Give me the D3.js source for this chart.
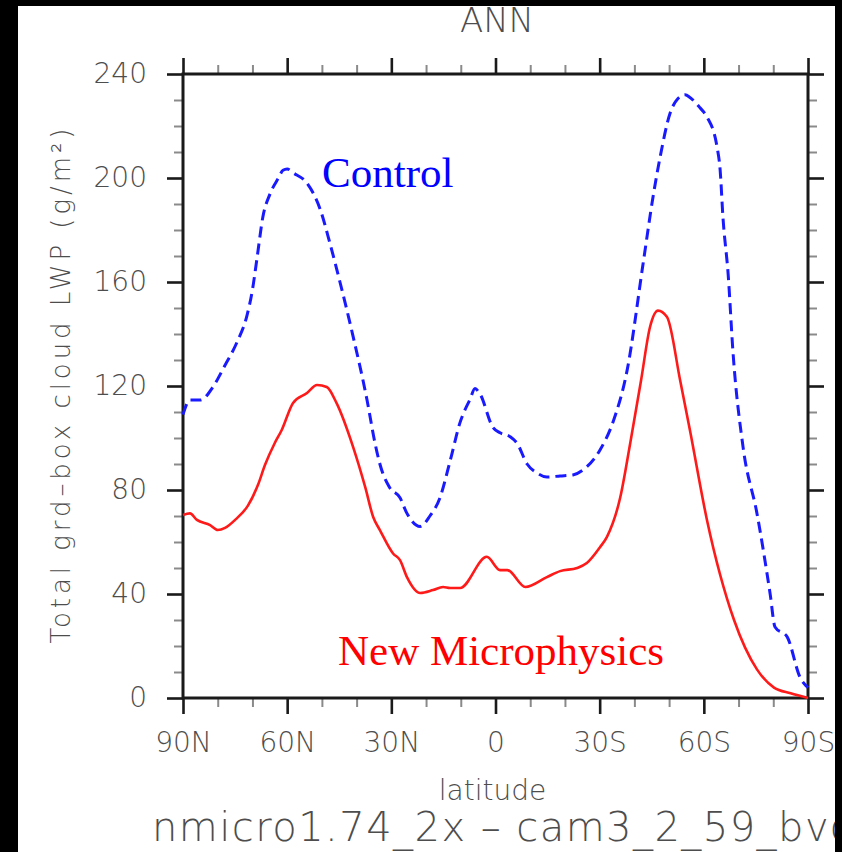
<!DOCTYPE html>
<html>
<head>
<meta charset="utf-8">
<script src="https://cdn.jsdelivr.net/npm/d3@7"></script>
<style>
  html, body { margin: 0; padding: 0; background: #000; }
  svg { display: block; }
  .tick-label { font-family: "DejaVu Sans", sans-serif; font-weight: 200; fill: #4d4d4d; }
</style>
</head>
<body>
<svg id="chart" width="842" height="852"></svg>
<script>
// Zonal-mean total grid-box cloud liquid water path, annual mean
const controlLat = [90, 88, 85, 81.4, 77.9, 74.4, 71.6, 70.0, 68.7, 67.0, 64.9, 62.5, 61.2, 60, 58.3, 54.3, 50.5, 47.7, 44.8, 41.0, 37.0, 34.7, 33.3, 30.5, 27.5, 25.5, 21.7, 18.9, 16.0, 13.1, 10.2, 7.3, 5.9, 4.5, 0.7, -1.3, -4.2, -6.2, -9.1, -12.0, -14.8, -18.6, -22.3, -25.2, -30.1, -33.8, -37.9, -42.5, -45.4, -47.4, -50.3, -52.5, -54.6, -56.0, -58.9, -60.9, -63.8, -64.7, -65.5, -67.0, -68.4, -71.3, -75.3, -79.1, -80.5, -84.0, -87.7, -90];
const controlLWP = [109, 114.6, 114.6, 119.6, 128, 137, 147, 157, 169, 185, 194, 200, 203, 203.5, 202, 198, 188, 175, 160, 139, 114.6, 98, 90, 81, 77, 71, 66, 70, 77, 91, 106, 115, 119, 117, 104, 102, 100.5, 98, 90, 86.5, 85, 85.4, 85.8, 87.7, 95.4, 106, 126, 167, 193, 208, 225, 230.5, 232, 231, 227, 223.5, 212, 203, 185, 163, 133, 96.5, 71, 40, 27.3, 23.5, 8, 4];

const newMicroLat = [90, 88, 86, 82.2, 80, 77.9, 75, 71.3, 68.4, 66.4, 63.6, 61.6, 58.3, 54.3, 51.4, 48.6, 45.8, 41.0, 37.5, 35.2, 33.3, 29.5, 27.5, 25.5, 21.7, 18, 15.1, 13.1, 10.2, 2.5, -1.3, -3.4, -8.6, -14.8, -18.6, -23.5, -26.3, -30.1, -32.1, -35.9, -38.8, -41.9, -44.5, -46.8, -49.4, -53.2, -56.0, -60.9, -68.7, -75.3, -80.2, -85, -90];
const newMicroLWP = [70.4, 71, 68.5, 66.5, 64.6, 65.4, 68.5, 74, 82, 89.6, 98, 103, 113.5, 117.3, 120.4, 119.6, 113.5, 96.5, 81, 69.5, 64.6, 55.6, 53, 46.5, 40.4, 41.5, 42.7, 42.3, 42.3, 54.3, 49.2, 49.2, 42.7, 46.5, 48.8, 50, 51.9, 58, 62, 77, 98, 122, 142.7, 149, 146.5, 122, 103, 68.5, 30, 11, 4, 1.8, 0];

const latTicks = [90, 60, 30, 0, -30, -60, -90];
const latTickLabels = ["90N", "60N", "30N", "0", "30S", "60S", "90S"];
const latMinorTicks = d3.range(-90, 91, 10).filter(v => v % 30 !== 0);
const lwpTicks = [0, 40, 80, 120, 160, 200, 240];
const lwpMinorTicks = d3.range(0, 241, 10).filter(v => v % 40 !== 0);

const seriesNames = ["Control", "New Microphysics"];

const svg = d3.select("#chart");
const W = 842, H = 852;
const plot = { left: 183, right: 808, top: 74, bottom: 698 };

// page background
svg.append("rect").attr("width", W).attr("height", H).attr("fill", "#fff");

const x = d3.scaleLinear().domain([90, -90]).range([plot.left, plot.right]);
const y = d3.scaleLinear().domain([0, 240]).range([plot.bottom, plot.top]);

const majorLen = 16, minorLen = 9;
const axisColor = "#1a1a1a";

// ---- axes: ticks pointing outward on all four sides ----
function styleAxis(g, major) {
  g.select(".domain").remove();
  g.selectAll(".tick line")
    .attr("stroke", major ? axisColor : "#8a8a8a")
    .attr("stroke-width", major ? 2.6 : 2);
}

// bottom
svg.append("g").attr("transform", `translate(0,${plot.bottom})`)
  .call(d3.axisBottom(x).tickValues(latMinorTicks).tickSize(minorLen).tickFormat(""))
  .call(g => styleAxis(g, false));
const xAxisB = svg.append("g").attr("transform", `translate(0,${plot.bottom})`)
  .call(d3.axisBottom(x).tickValues(latTicks).tickSize(majorLen)
    .tickFormat((d, i) => latTickLabels[i]).tickPadding(18))
  .call(g => styleAxis(g, true));
xAxisB.selectAll(".tick text").attr("class", "tick-label")
  .attr("font-size", 28).attr("fill", "#4d4d4d");

// top
svg.append("g").attr("transform", `translate(0,${plot.top})`)
  .call(d3.axisTop(x).tickValues(latMinorTicks).tickSize(minorLen).tickFormat(""))
  .call(g => styleAxis(g, false));
svg.append("g").attr("transform", `translate(0,${plot.top})`)
  .call(d3.axisTop(x).tickValues(latTicks).tickSize(majorLen).tickFormat(""))
  .call(g => styleAxis(g, true));

// left
svg.append("g").attr("transform", `translate(${plot.left},0)`)
  .call(d3.axisLeft(y).tickValues(lwpMinorTicks).tickSize(minorLen).tickFormat(""))
  .call(g => styleAxis(g, false));
const yAxisL = svg.append("g").attr("transform", `translate(${plot.left},0)`)
  .call(d3.axisLeft(y).tickValues(lwpTicks).tickSize(majorLen).tickPadding(20))
  .call(g => styleAxis(g, true));
yAxisL.selectAll(".tick text").attr("class", "tick-label")
  .attr("font-size", 28).attr("fill", "#4d4d4d");

// right
svg.append("g").attr("transform", `translate(${plot.right},0)`)
  .call(d3.axisRight(y).tickValues(lwpMinorTicks).tickSize(minorLen).tickFormat(""))
  .call(g => styleAxis(g, false));
svg.append("g").attr("transform", `translate(${plot.right},0)`)
  .call(d3.axisRight(y).tickValues(lwpTicks).tickSize(majorLen).tickFormat(""))
  .call(g => styleAxis(g, true));

// plot frame
svg.append("rect")
  .attr("x", plot.left).attr("y", plot.top)
  .attr("width", plot.right - plot.left).attr("height", plot.bottom - plot.top)
  .attr("fill", "none").attr("stroke", axisColor).attr("stroke-width", 3);

// ---- data lines ----
const line = d3.line()
  .x(d => x(d[0])).y(d => y(d[1]))
  .curve(d3.curveMonotoneX);

const controlPts = d3.zip(controlLat, controlLWP);
const newMicroPts = d3.zip(newMicroLat, newMicroLWP);

svg.append("path").datum(newMicroPts)
  .attr("d", line).attr("fill", "none")
  .attr("stroke", "#ff1a1a").attr("stroke-width", 2.6)
  .attr("stroke-linejoin", "round");

svg.append("path").datum(controlPts)
  .attr("d", line).attr("fill", "none")
  .attr("stroke", "#1a1aff").attr("stroke-width", 3)
  .attr("stroke-dasharray", "11,6")
  .attr("stroke-linejoin", "round");

// ---- series labels ----
svg.append("text").attr("x", 322).attr("y", 187)
  .attr("font-family", "'Liberation Serif', 'Times New Roman', serif")
  .attr("font-size", 43).attr("fill", "#0000ff")
  .text(seriesNames[0]);
svg.append("text").attr("x", 338).attr("y", 665)
  .attr("font-family", "'Liberation Serif', 'Times New Roman', serif")
  .attr("font-size", 43).attr("fill", "#ff0000")
  .text(seriesNames[1]);

// ---- titles ----
svg.append("text").attr("class", "tick-label")
  .attr("x", 497).attr("y", 32).attr("text-anchor", "middle")
  .attr("font-size", 34)
  .text("ANN");

svg.append("text").attr("class", "tick-label")
  .attr("x", (plot.left + plot.right) / 2 - 3).attr("y", 800).attr("text-anchor", "middle")
  .attr("font-size", 28)
  .text("latitude");

svg.append("text").attr("class", "tick-label")
  .attr("transform", `translate(70,${(plot.top + plot.bottom) / 2}) rotate(-90)`)
  .attr("text-anchor", "middle")
  .attr("font-size", 26).attr("textLength", 515)
  .text("Total grd\u2013box cloud LWP (g/m\u00B2)");

svg.append("text").attr("class", "tick-label")
  .attr("x", 152).attr("y", 841)
  .attr("font-size", 40).attr("textLength", 700)
  .text("nmicro1.74_2x \u2013 cam3_2_59_bvc");

// black border bands
svg.append("rect").attr("x", 0).attr("y", 0).attr("width", 18).attr("height", H).attr("fill", "#000");
svg.append("rect").attr("x", 0).attr("y", 0).attr("width", W).attr("height", 6).attr("fill", "#000");
svg.append("rect").attr("x", 835).attr("y", 0).attr("width", 7).attr("height", H).attr("fill", "#000");
</script>
</body>
</html>
